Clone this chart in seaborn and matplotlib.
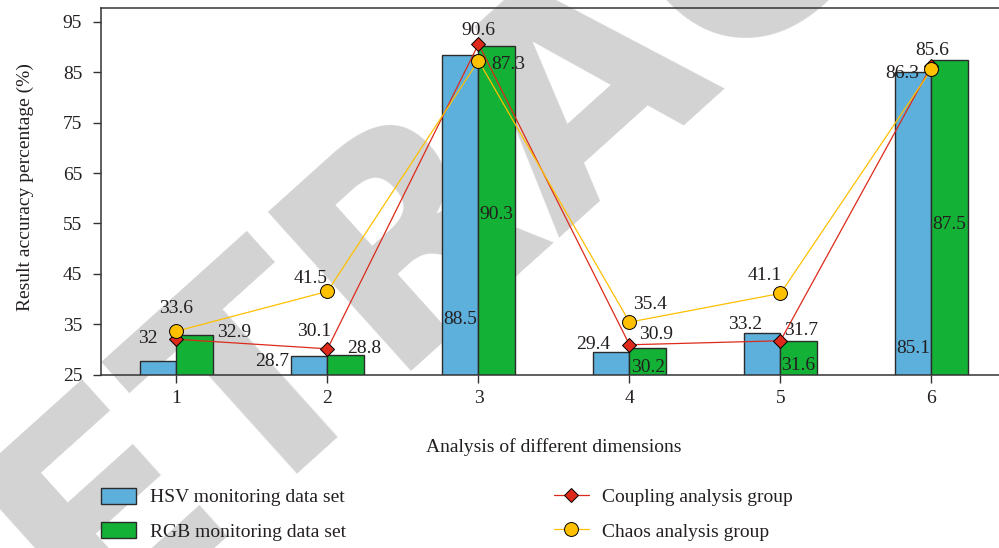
import numpy as np
import pandas as pd
import matplotlib
matplotlib.use("Agg")
import matplotlib.pyplot as plt
from matplotlib.patches import Patch
from matplotlib.lines import Line2D
import seaborn as sns

# ---- data ----
dimensions = ["1", "2", "3", "4", "5", "6"]
hsv_values = [27.6, 28.7, 88.5, 29.4, 33.2, 85.1]
rgb_values = [32.9, 28.8, 90.3, 30.2, 31.6, 87.5]
coupling_values = [32.0, 30.1, 90.6, 30.9, 31.7, 86.3]
chaos_values = [33.6, 41.5, 87.3, 35.4, 41.1, 85.6]
y_ticks = [25, 35, 45, 55, 65, 75, 85, 95]

series_names = ["HSV monitoring data set", "RGB monitoring data set",
                "Coupling analysis group", "Chaos analysis group"]

# label placement (pixel offsets from each mark); None = no label
hsv_offsets = [None, (-37, 4), (0, 263), (-18, -10), (-17, -10.5), (0, 275)]
rgb_offsets = [(40, -4), (19, -9), (0, 167), (1, 17), (0, 22), (0, 163)]
coupling_offsets = [(-29, -3), (-13, -19), (0, -16), (27, -12), (21, -12), (-29, 6)]
chaos_offsets = [(0, -25), (-17, -15), (30, 2), (21, -20), (-16, -20), (1, -21)]

BLUE = "#5EB0DC"
GREEN = "#13B135"
RED = "#DD2A1B"
YELLOW = "#FFC000"
INK = "#231F20"
EDGE = "#2B2B2B"

sns.set_theme(style="white")
plt.rcParams["font.family"] = ["Liberation Serif", "DejaVu Serif"]
plt.rcParams["text.color"] = INK
plt.rcParams["axes.labelcolor"] = INK
plt.rcParams["xtick.color"] = INK
plt.rcParams["ytick.color"] = INK

fig = plt.figure(figsize=(9.99, 5.48), dpi=100)
fig.patch.set_facecolor("white")

# faint diagonal watermark behind the chart
fig.text(0.585, 0.85, "RETRACTED", rotation=42, rotation_mode="anchor",
         ha="center", va="center", fontsize=210, fontweight="bold",
         family="DejaVu Sans", color="#D3D3D3", zorder=-5)

ax = fig.add_axes([0.1011, 0.3166, 0.9069, 0.6683])
ax.set_facecolor("none")

bars = pd.DataFrame({
    "dimension": dimensions * 2,
    "value": hsv_values + rgb_values,
    "series": [series_names[0]] * 6 + [series_names[1]] * 6,
})
sns.barplot(data=bars, x="dimension", y="value", hue="series",
            palette=[BLUE, GREEN], saturation=1, width=0.48,
            edgecolor=EDGE, linewidth=1.0, errorbar=None, legend=False,
            ax=ax, zorder=2)

pos = np.arange(len(dimensions))
sns.lineplot(x=pos, y=coupling_values, color=RED, linewidth=0.9,
             marker="D", markersize=7.5, markerfacecolor=RED,
             markeredgecolor="black", markeredgewidth=0.7, ax=ax, zorder=4)
sns.lineplot(x=pos, y=chaos_values, color=YELLOW, linewidth=0.9,
             marker="o", markersize=10, markerfacecolor=YELLOW,
             markeredgecolor="black", markeredgewidth=0.7, ax=ax, zorder=5)

ax.set_xlim(-0.5, 5.5)
ax.set_ylim(25, 97.7)
ax.set_yticks(y_ticks)
ax.set_xticks(pos)
ax.set_xticklabels(dimensions)

for side in ["left", "bottom", "top"]:
    ax.spines[side].set_visible(True)
    ax.spines[side].set_color("#333333")
    ax.spines[side].set_linewidth(1.1)
ax.spines["right"].set_visible(False)

ax.tick_params(axis="y", direction="out", length=5.5, width=1.0, pad=8,
               labelsize=14, left=True, color="#333333")
ax.tick_params(axis="x", direction="out", length=5.8, width=1.0, pad=5,
               labelsize=14, bottom=True, color="#333333")

ax.set_xlabel("Analysis of different dimensions", fontsize=14)
ax.set_ylabel("Result accuracy percentage (%)", fontsize=14)
ax.xaxis.set_label_coords(0.5, -0.175)
ax.yaxis.set_label_coords(-0.074, 0.512)


def put_labels(xs, values, offsets):
    for x, v, off in zip(xs, values, offsets):
        if off is None:
            continue
        dx, dy = off
        ax.annotate(f"{v:g}", xy=(x, v), xytext=(dx * 0.72, -dy * 0.72),
                    textcoords="offset points", ha="center",
                    va="center_baseline", fontsize=14, color=INK, zorder=6)


put_labels(pos - 0.12, hsv_values, hsv_offsets)
put_labels(pos + 0.12, rgb_values, rgb_offsets)
put_labels(pos, coupling_values, coupling_offsets)
put_labels(pos, chaos_values, chaos_offsets)

handles = [
    Patch(facecolor=BLUE, edgecolor=EDGE, linewidth=1.0),
    Patch(facecolor=GREEN, edgecolor=EDGE, linewidth=1.0),
    Line2D([], [], color=RED, linewidth=0.9, marker="D", markersize=7.5,
           markerfacecolor=RED, markeredgecolor="black", markeredgewidth=0.7),
    Line2D([], [], color=YELLOW, linewidth=0.9, marker="o", markersize=10,
           markerfacecolor=YELLOW, markeredgecolor="black", markeredgewidth=0.7),
]
fig.legend(handles, series_names, ncol=2, loc="upper left",
           bbox_to_anchor=(0.1011, 1 - 488 / 548), frameon=False,
           fontsize=14, handlelength=1.8, handleheight=0.85,
           handletextpad=0.7, columnspacing=10.7, labelspacing=0.8,
           borderpad=0, borderaxespad=0)

fig.savefig("out.png", dpi=100, facecolor="white")
